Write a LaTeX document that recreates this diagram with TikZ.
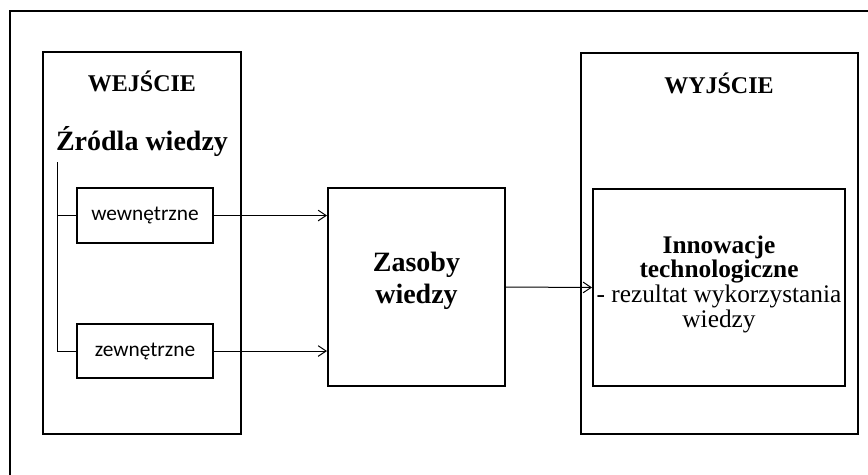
\documentclass[tikz,border=0pt]{standalone}
\usepackage{fontspec}
\setmainfont{Liberation Serif}
\newfontfamily\sourcefont{Carlito}
\usetikzlibrary{arrows.meta,positioning,calc}

\begin{document}
\begin{tikzpicture}[
    x=0.75pt, y=-0.75pt,
    panel/.style={rectangle, draw, line width=1.5pt, inner sep=0pt},
    source/.style={rectangle, draw, line width=1.5pt, minimum width=102pt, minimum height=41pt, inner sep=0pt, font=\sourcefont\fontsize{16}{18}\selectfont},
    heading/.style={font=\bfseries\fontsize{18}{20}\selectfont},
    bigtitle/.style={font=\bfseries\fontsize{21}{24}\selectfont},
    branch/.style={line width=0.75pt},
    arrow/.style={line width=0.75pt, -{Straight Barb[length=6pt,width=8pt]}}
]
\useasboundingbox (0,0) rectangle (868,475);

% Frame
\draw[line width=1.5pt] (10,475) -- (10,11) -- (868,11);

% Input
\node[panel, minimum width=148.5pt, minimum height=286.5pt] (input) at (142,243) {};
\node[heading, anchor=base] (inlabel) at (142,91) {WEJŚCIE};
\node[bigtitle, anchor=base] (sources) at (142,150) {Źródla wiedzy};
\node[source] (internal) at (145,215.5) {wewnętrzne};
\node[source] (external) at (145,351) {zewnętrzne};
\coordinate (branchtop) at (57,162);
\draw[branch] (branchtop) |- (external.west);
\draw[branch] (branchtop |- internal.west) -- (internal.west);

% Knowledge resources
\node[panel, minimum width=132.75pt, minimum height=148.5pt] (resources) at (416.5,287) {};
\node[bigtitle, align=center] (restext) at (416.5,281) {Zasoby\\wiedzy};

% Output
\node[panel, minimum width=207.75pt, minimum height=285.75pt] (output) at (719.5,243.5) {};
\node[heading, anchor=base] (outlabel) at (719,93) {WYJŚCIE};
\node[panel, minimum width=189pt, minimum height=147.75pt] (innovation) at (719,287.5) {};
\node[align=center, font=\fontsize{19}{18.5}\selectfont] (innotext) at (719,284) {\textbf{Innowacje}\\\textbf{technologiczne}\\- rezultat wykorzystania\\wiedzy};

% Arrows
\draw[arrow] (internal.east) -- (internal.east -| resources.west);
\draw[arrow] (external.east) -- (external.east -| resources.west);
\draw[arrow] (resources.east) -- (innovation.west);

\end{tikzpicture}
\end{document}
